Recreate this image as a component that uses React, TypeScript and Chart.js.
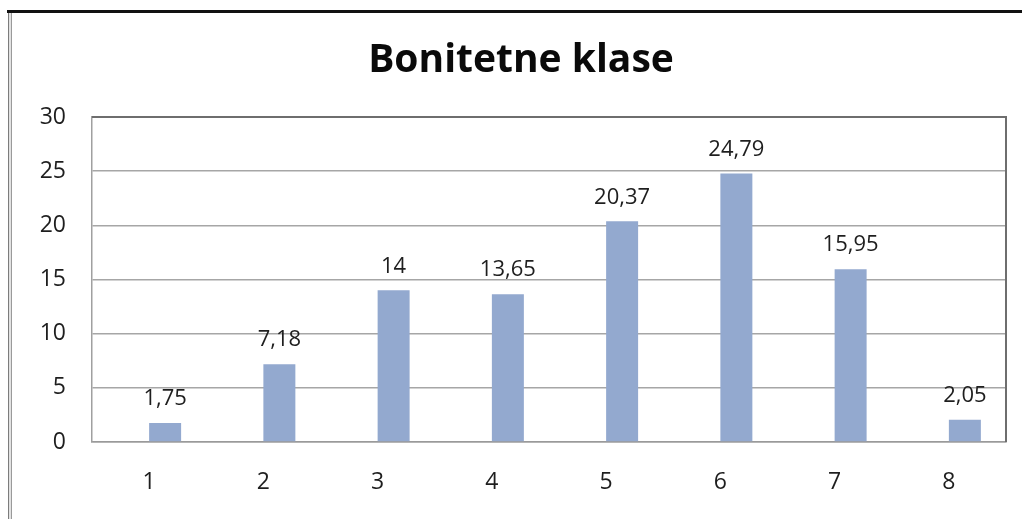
import React, { useEffect, useRef } from "react";
import { Chart, registerables } from "chart.js";

Chart.register(...registerables);

const categories = ["1", "2", "3", "4", "5", "6", "7", "8"];
const values = [1.75, 7.18, 14, 13.65, 20.37, 24.79, 15.95, 2.05];
const placeholder = [null, null, null, null, null, null, null, null];
const yTicks = [0, 5, 10, 15, 20, 25, 30];
const titleText = "Bonitetne klase";

const FONT = "'Open Sans', Lato, sans-serif";

const valueLabels = {
  id: "valueLabels",
  afterDatasetsDraw(chart: any) {
    const ctx = chart.ctx;
    const meta = chart.getDatasetMeta(1);
    ctx.save();
    ctx.font = `22px ${FONT}`;
    ctx.fillStyle = "#1e1e1e";
    ctx.textAlign = "center";
    ctx.textBaseline = "middle";
    meta.data.forEach((bar: any, i: number) => {
      const v = values[i];
      ctx.fillText(String(v).replace(".", ","), bar.x, bar.y - 24);
    });
    ctx.restore();
  },
};

const plotFrame = {
  id: "plotFrame",
  afterDraw(chart: any) {
    const { ctx, chartArea } = chart;
    ctx.save();
    ctx.strokeStyle = "#6e6e6e";
    ctx.lineWidth = 2;
    ctx.beginPath();
    ctx.moveTo(chartArea.left, chartArea.top);
    ctx.lineTo(chartArea.right, chartArea.top);
    ctx.lineTo(chartArea.right, chartArea.bottom);
    ctx.stroke();
    ctx.restore();
  },
};

export default function App() {
  const ref = useRef<HTMLCanvasElement>(null);

  useEffect(() => {
    if (!ref.current) return;
    const chart = new Chart(ref.current, {
      type: "bar",
      data: {
        labels: categories,
        datasets: [
          { data: placeholder as any, backgroundColor: "#93a9cf" },
          { data: values, backgroundColor: "#93a9cf" },
        ],
      },
      options: {
        animation: false,
        responsive: false,
        maintainAspectRatio: false,
        layout: { padding: { top: 0, right: 16, bottom: 0, left: 36 } },
        plugins: {
          legend: { display: false },
          tooltip: { enabled: false },
          title: {
            display: true,
            text: titleText,
            color: "#0a0a0a",
            font: { family: FONT, size: 39, weight: "bold", lineHeight: 1.2 },
            padding: { top: 37, bottom: 33.2 },
          },
        },
        datasets: {
          bar: { categoryPercentage: 0.56, barPercentage: 1.0 },
        },
        scales: {
          x: {
            grid: { display: false, drawTicks: false },
            border: { display: true, color: "#9a9a9a", width: 1.5 },
            ticks: {
              color: "#1e1e1e",
              font: { family: FONT, size: 23 },
              padding: 27,
              maxRotation: 0,
            },
            afterFit(scale: any) {
              scale.height = 77;
            },
          },
          y: {
            min: 0,
            max: 30,
            afterBuildTicks(scale: any) {
              scale.ticks = yTicks.map((v) => ({ value: v }));
            },
            grid: { color: "#a6a6a6", lineWidth: 1.5, drawTicks: false },
            border: { display: true, color: "#a0a0a0", width: 1.5 },
            ticks: {
              color: "#1e1e1e",
              font: { family: FONT, size: 23 },
              padding: 26,
            },
            afterFit(scale: any) {
              scale.width = 56;
            },
          },
        },
      },
      plugins: [valueLabels, plotFrame],
    });
    return () => chart.destroy();
  }, []);

  return (
    <div style={{ position: "fixed", left: 0, top: 0, width: 1022, height: 519, background: "#fff" }}>
      <canvas ref={ref} width={1022} height={519} style={{ display: "block", width: 1022, height: 519 }} />
      <div style={{ position: "absolute", left: 7, top: 10, width: 1015, height: 3, background: "#111" }} />
      <div
        style={{
          position: "absolute",
          left: 8,
          top: 13,
          width: 2,
          height: 506,
          background: "#e2e2e2",
          borderLeft: "1px solid #7c7c7c",
          borderRight: "1px solid #9a9a9a",
        }}
      />
    </div>
  );
}
